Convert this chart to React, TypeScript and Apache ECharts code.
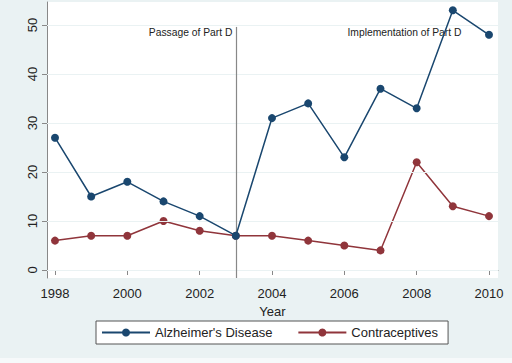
import React, { useEffect, useRef } from "react";
import * as echarts from "echarts";

const years = [1998, 1999, 2000, 2001, 2002, 2003, 2004, 2005, 2006, 2007, 2008, 2009, 2010];
const alzheimers = [27, 15, 18, 14, 11, 7, 31, 34, 23, 37, 33, 53, 48];
const contraceptives = [6, 7, 7, 10, 8, 7, 7, 6, 5, 4, 22, 13, 11];
const xTicks = [1998, 2000, 2002, 2004, 2006, 2008, 2010];
const yTicks = [0, 10, 20, 30, 40, 50];
const passageYear = 2003;
const annotations = [
  { text: "Passage of Part D", x: 2002.92, y: 48.3 },
  { text: "Implementation of Part D", x: 2009.25, y: 48.3 },
];

const NAVY = "#1a476f";
const MAROON = "#90353b";
const FONT = "'Liberation Sans', Arial, sans-serif";

export default function App() {
  const ref = useRef<HTMLDivElement>(null);
  useEffect(() => {
    if (!ref.current) return;
    const chart = echarts.init(ref.current, null, { renderer: "svg" });
    const toPairs = (vals: number[]) => years.map((y, i) => [y, vals[i]]);
    chart.setOption({
      animation: false,
      backgroundColor: "#eaf2f3",
      textStyle: { fontFamily: FONT },
      graphic: [
        { type: "rect", shape: { x: 47, y: 2, width: 451, height: 276 }, style: { fill: "#ffffff" }, z: -10, silent: true },
        { type: "rect", shape: { x: 0, y: 358, width: 512, height: 5 }, style: { fill: "#f6f9fa" }, z: -10, silent: true },
      ],
      grid: { left: 47, right: 14, top: 2, bottom: 85, containLabel: false },
      legend: {
        left: 96,
        top: 321,
        padding: [5, 10, 5, 5],
        backgroundColor: "#ffffff",
        borderColor: "#555",
        borderWidth: 1,
        borderRadius: 0,
        itemWidth: 48,
        itemHeight: 10,
        itemGap: 25,
        textStyle: { fontSize: 13, color: "#222", fontFamily: FONT },
        data: ["Alzheimer's Disease", "Contraceptives"],
      },
      xAxis: {
        type: "value",
        min: 1997.779,
        max: 2010.249,
        name: "Year",
        nameLocation: "middle",
        nameGap: 19,
        nameTextStyle: { fontSize: 13, color: "#222", fontFamily: FONT },
        axisLine: { show: true, lineStyle: { color: "#888", width: 1 } },
        axisTick: { show: true, length: 5, lineStyle: { color: "#888" }, customValues: xTicks },
        axisLabel: { fontSize: 13, color: "#222", margin: 9, customValues: xTicks, formatter: (v: number) => String(v) },
        splitLine: { show: false },
      },
      yAxis: {
        type: "value",
        min: -1.63,
        max: 54.69,
        axisLine: { show: true, lineStyle: { color: "#888", width: 1 } },
        axisTick: { show: true, length: 5, lineStyle: { color: "#888" }, customValues: yTicks },
        axisLabel: { fontSize: 13, color: "#222", rotate: 90, margin: 8, customValues: yTicks, formatter: (v: number) => String(v) },
        splitLine: { show: false },
      },
      series: [
        {
          name: "grid",
          type: "line",
          data: [],
          silent: true,
          markLine: {
            silent: true,
            symbol: "none",
            label: { show: false },
            lineStyle: { color: "#eaf2f3", type: "solid", width: 1 },
            data: yTicks.map((v) => ({ yAxis: v })),
          },
          z: 1,
        },
        {
          name: "Alzheimer's Disease",
          type: "line",
          data: toPairs(alzheimers),
          symbol: "circle",
          symbolSize: 8,
          itemStyle: { color: NAVY },
          lineStyle: { color: NAVY, width: 1.5 },
          z: 5,
        },
        {
          name: "Contraceptives",
          type: "line",
          data: toPairs(contraceptives),
          symbol: "circle",
          symbolSize: 8,
          itemStyle: { color: MAROON },
          lineStyle: { color: MAROON, width: 1.5 },
          z: 4,
          markLine: {
            silent: true,
            symbol: "none",
            label: { show: false },
            lineStyle: { color: "#888", type: "solid", width: 1.2 },
            data: [[{ coord: [passageYear, 49.6] }, { coord: [passageYear, -1.63] }]],
          },
          markPoint: {
            silent: true,
            symbol: "circle",
            symbolSize: 1,
            itemStyle: { color: "rgba(0,0,0,0)" },
            label: {
              show: true,
              position: [0, 0],
              align: "right",
              verticalAlign: "middle",
              fontSize: 10.3,
              color: "#222",
              fontFamily: FONT,
              formatter: (p: any) => p.name,
            },
            data: annotations.map((a) => ({ name: a.text, coord: [a.x, a.y] })),
          },
        },
      ],
    });
    return () => chart.dispose();
  }, []);
  return (
    <div style={{ position: "fixed", left: 0, top: 0, width: 512, height: 363 }}>
      <div ref={ref} style={{ width: 512, height: 363 }} />
    </div>
  );
}
